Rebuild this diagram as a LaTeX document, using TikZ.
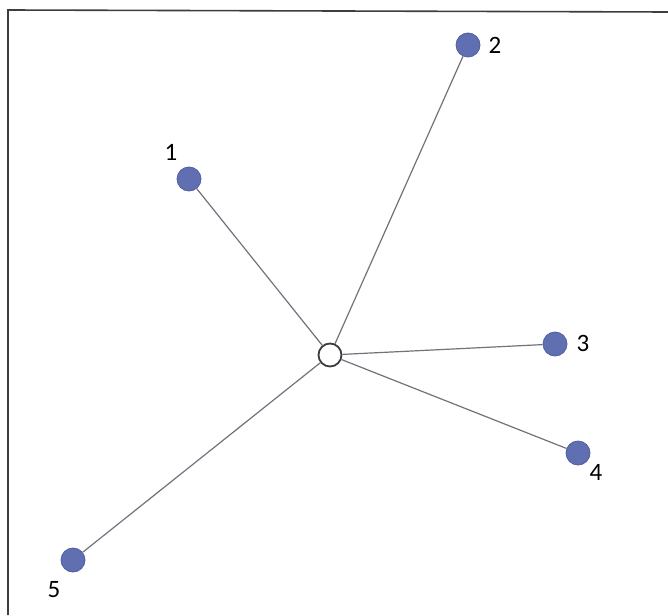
\documentclass[tikz,border=0pt]{standalone}
\usepackage{fontspec}
\setmainfont{Carlito}
\definecolor{dotfill}{RGB}{96,110,178}
\definecolor{dotedge}{RGB}{82,94,160}
\definecolor{edgegray}{RGB}{112,114,124}
\definecolor{framegray}{RGB}{60,60,65}
\tikzset{
  leaf/.style={circle, fill=dotfill, draw=dotedge, line width=0.8pt, minimum size=24pt, inner sep=0pt},
  hub/.style={circle, fill=white, draw=framegray, line width=1.8pt, minimum size=23pt, inner sep=0pt},
  lbl/.style={font=\fontsize{25}{28}\selectfont, inner sep=0pt},
  link/.style={draw=edgegray, line width=1.2pt}
}
\begin{document}
\begin{tikzpicture}[x=1pt,y=-1pt]
\useasboundingbox (0,0) rectangle (668,615);
\fill[white] (0,0) rectangle (668,615);
\coordinate (fbl) at (8,615);
\coordinate (ftl) at (8,10);
\coordinate (ftr) at (668,12);
\draw[framegray, line width=1.6pt] (fbl) -- (ftl) -- (ftr);
\node[hub] (c) at (330,355) {};
\node[leaf] (n1) at (189,179) {};
\node[leaf] (n2) at (468,45) {};
\node[leaf] (n3) at (555,344) {};
\node[leaf] (n4) at (578,453) {};
\node[leaf] (n5) at (73,560) {};
\node[lbl] (l1) at (171,152) {1};
\node[lbl] (l2) at (495,45) {2};
\node[lbl] (l3) at (583,343) {3};
\node[lbl] (l4) at (596,472) {4};
\node[lbl] (l5) at (54,590) {5};
\path[link] (c) -- (n1);
\path[link] (c) -- (n2);
\path[link] (c) -- (n3);
\path[link] (c) -- (n4);
\path[link] (c) -- (n5);
\end{tikzpicture}
\end{document}
